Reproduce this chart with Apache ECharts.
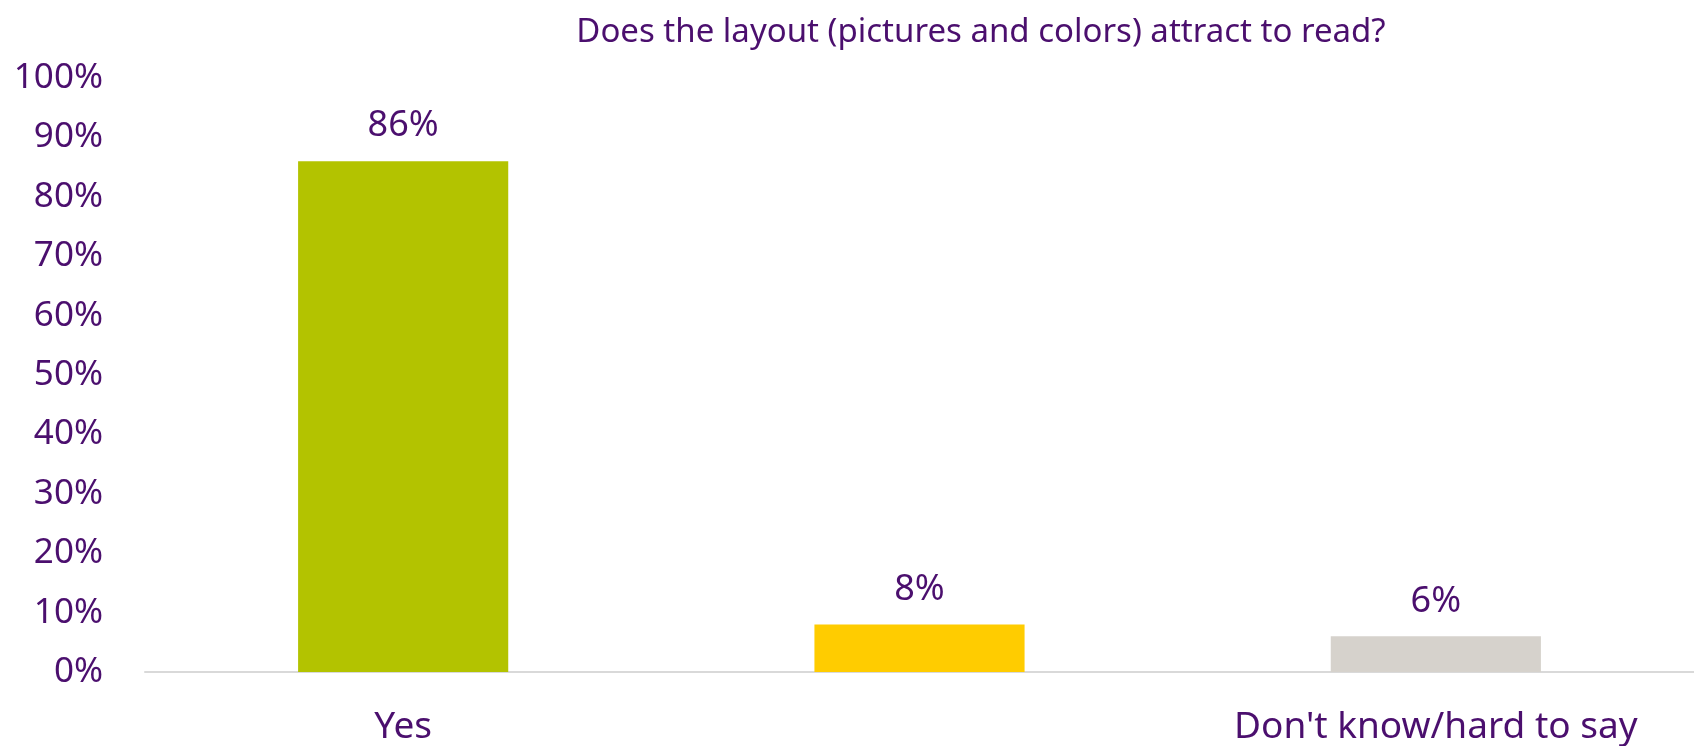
<!DOCTYPE html>
<html>
<head>
<meta charset="utf-8">
<script src="https://cdn.jsdelivr.net/npm/echarts@6/dist/echarts.min.js"></script>
<style>
  html, body { margin: 0; padding: 0; background: #ffffff; }
  #chart { width: 1694px; height: 746px; }
</style>
</head>
<body>
<div id="chart"></div>
<script>
// Survey answers and their shares (percent)
const titleText = 'Does the layout (pictures and colors) attract to read?';
const categories = ['Yes', 'No', "Don't know/hard to say"];
const shares = [86, 8, 6];
const barColors = ['#B3C300', '#FFCC00', '#D6D2CC'];
const axisMax = 100;
const axisStep = 10;

const textColor = '#4B0F6E';
const fontFamily = 'Noto Sans, sans-serif';

const chart = echarts.init(document.getElementById('chart'));
chart.setOption({
  animation: false,
  backgroundColor: '#ffffff',
  title: {
    text: titleText,
    left: 976,
    textAlign: 'center',
    top: 11,
    textStyle: { color: textColor, fontSize: 33, fontWeight: 'normal', fontFamily: fontFamily }
  },
  grid: { left: 145, right: 0, top: 78, bottom: 73, containLabel: false },
  xAxis: {
    type: 'category',
    data: categories,
    axisLine: { lineStyle: { color: '#D9D9D9', width: 2 } },
    axisTick: { show: false },
    axisLabel: { color: textColor, fontSize: 37, fontFamily: fontFamily, margin: 37 }
  },
  yAxis: {
    type: 'value',
    min: 0,
    max: axisMax,
    interval: axisStep,
    axisLine: { show: false },
    axisTick: { show: false },
    splitLine: { show: false },
    axisLabel: { color: textColor, fontSize: 35, fontFamily: fontFamily, margin: 42,
                 formatter: v => v + '%' }
  },
  series: [{
    type: 'bar',
    barWidth: '40.7%',
    data: shares.map((v, i) => ({ value: v, itemStyle: { color: barColors[i] } })),
    label: {
      show: true,
      position: 'top',
      distance: 17,
      color: textColor,
      fontSize: 36,
      fontFamily: fontFamily,
      formatter: p => p.value + '%'
    }
  }]
});
</script>
</body>
</html>
